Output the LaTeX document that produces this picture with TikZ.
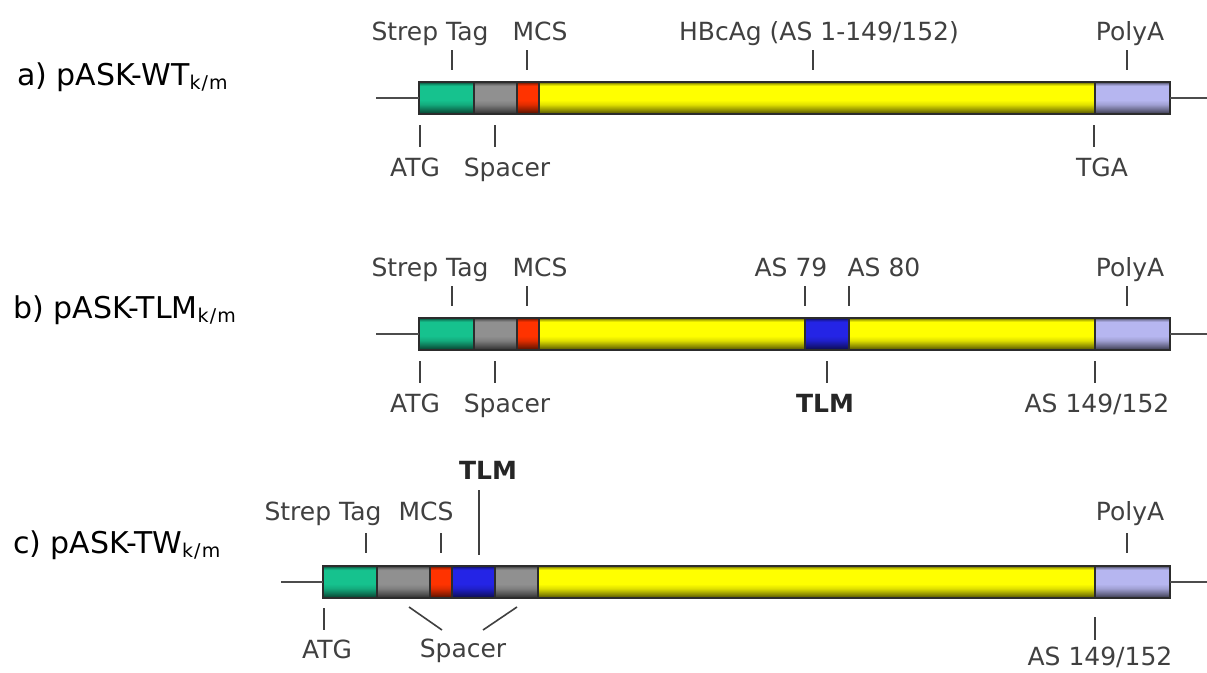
\documentclass[tikz,border=0pt]{standalone}
\usepackage{fontspec}
\setmainfont{DejaVu Sans}
\definecolor{cgreen}{HTML}{16C28E}
\definecolor{cgrey}{HTML}{909090}
\definecolor{cred}{HTML}{FF3300}
\definecolor{cyellow}{HTML}{FFFF00}
\definecolor{clav}{HTML}{B6B6F0}
\definecolor{cblue}{HTML}{2424E6}
\definecolor{txt}{HTML}{404040}
\definecolor{edge}{HTML}{2C2C2C}
\newcommand\mkshade[1]{\pgfdeclareverticalshading{sh#1}{100bp}{color(0bp)=(#1!30!black); color(25bp)=(#1!30!black); color(31bp)=(#1!55!black); color(40bp)=(#1!88!black); color(47bp)=(#1); color(69bp)=(#1); color(72.5bp)=(#1!70!black); color(75bp)=(#1!35!black); color(100bp)=(#1!35!black)}}
\mkshade{cgreen}\mkshade{cgrey}\mkshade{cred}\mkshade{cyellow}\mkshade{clav}\mkshade{cblue}
\tikzset{
  seg/.style={shade, shading=sh#1, draw=edge, line width=1.2pt, minimum height=32pt, inner sep=0pt, outer sep=0pt, anchor=north west},
  wire/.style={draw=edge!85, line width=1.5pt},
  tick/.style={draw=txt, line width=1.6pt},
  lab/.style={text=txt, font=\fontsize{25}{28}\selectfont, inner sep=0pt, anchor=base},
  blab/.style={lab, text=black!85, font=\fontsize{25}{28}\selectfont\bfseries},
  rowlab/.style={text=black, font=\fontsize{30}{33}\selectfont, inner sep=0pt, anchor=base west}
}
\newcommand\subkm{\raisebox{-4pt}{\fontsize{19}{21}\selectfont\addfontfeature{LetterSpace=6}k/m}}
\begin{document}
\begin{tikzpicture}[x=1pt,y=-1pt]
\useasboundingbox (0,0) rectangle (1207,672);
\fill[white] (0,0) rectangle (1207,672);

% ---------- row a ----------
\node[rowlab] (ra) at (17,85) {a) pASK-WT\subkm};
\coordinate (aL) at (376,98);
\coordinate (aR) at (1207,98);
\node[seg=cgreen,  minimum width=55pt]  (a1) at (419,82) {};
\node[seg=cgrey,   minimum width=43pt]  (a2) at (474,82) {};
\node[seg=cred,    minimum width=22pt]  (a3) at (517,82) {};
\node[seg=cyellow, minimum width=556pt] (a4) at (539,82) {};
\node[seg=clav,    minimum width=75pt]  (a5) at (1095,82) {};
\draw[wire] (aL) -- (a1.west);
\draw[wire] (a5.east) -- (aR);
\node[lab] (aStrep) at (430,40) {Strep Tag};
\node[lab] (aMCS) at (540,40) {MCS};
\node[lab] (aHBc) at (819,40) {HBcAg (AS 1-149/152)};
\node[lab] (aPoly) at (1130,40) {PolyA};
\node[lab] (aATG) at (415,176) {ATG};
\node[lab] (aSp) at (507,176) {Spacer};
\node[lab] (aTGA) at (1102,176) {TGA};
\foreach \x in {452,527,813,1127} \draw[tick] (\x,50) -- (\x,70);
\foreach \x in {420,495,1094} \draw[tick] (\x,125) -- (\x,147);

% ---------- row b ----------
\node[rowlab] (rb) at (13,318) {b) pASK-TLM\subkm};
\coordinate (bL) at (376,334);
\coordinate (bR) at (1207,334);
\node[seg=cgreen,  minimum width=55pt]  (b1) at (419,318) {};
\node[seg=cgrey,   minimum width=43pt]  (b2) at (474,318) {};
\node[seg=cred,    minimum width=22pt]  (b3) at (517,318) {};
\node[seg=cyellow, minimum width=266pt] (b4) at (539,318) {};
\node[seg=cblue,   minimum width=44pt]  (b5) at (805,318) {};
\node[seg=cyellow, minimum width=246pt] (b6) at (849,318) {};
\node[seg=clav,    minimum width=75pt]  (b7) at (1095,318) {};
\draw[wire] (bL) -- (b1.west);
\draw[wire] (b7.east) -- (bR);
\node[lab] (bStrep) at (430,276) {Strep Tag};
\node[lab] (bMCS) at (540,276) {MCS};
\node[lab] (b79) at (791,276) {AS 79};
\node[lab] (b80) at (884,276) {AS 80};
\node[lab] (bPoly) at (1130,276) {PolyA};
\node[lab] (bATG) at (415,412) {ATG};
\node[lab] (bSp) at (507,412) {Spacer};
\node[blab] (bTLM) at (825,412) {TLM};
\node[lab] (bAS) at (1097,412) {AS 149/152};
\foreach \x in {452,527,805,849,1127} \draw[tick] (\x,286) -- (\x,306);
\foreach \x in {420,495,827,1095} \draw[tick] (\x,361) -- (\x,383);

% ---------- row c ----------
\node[rowlab] (rc) at (13,553) {c) pASK-TW\subkm};
\coordinate (cL) at (281,582);
\coordinate (cR) at (1207,582);
\node[seg=cgreen,  minimum width=54pt]  (c1) at (323,566) {};
\node[seg=cgrey,   minimum width=53pt]  (c2) at (377,566) {};
\node[seg=cred,    minimum width=22pt]  (c3) at (430,566) {};
\node[seg=cblue,   minimum width=43pt]  (c4) at (452,566) {};
\node[seg=cgrey,   minimum width=43pt]  (c5) at (495,566) {};
\node[seg=cyellow, minimum width=557pt] (c6) at (538,566) {};
\node[seg=clav,    minimum width=75pt]  (c7) at (1095,566) {};
\draw[wire] (cL) -- (c1.west);
\draw[wire] (c7.east) -- (cR);
\node[blab] (cTLM) at (488,479) {TLM};
\node[lab] (cStrep) at (323,520) {Strep Tag};
\node[lab] (cMCS) at (426,520) {MCS};
\node[lab] (cPoly) at (1130,520) {PolyA};
\node[lab] (cATG) at (327,658) {ATG};
\node[lab] (cSp) at (463,657) {Spacer};
\node[lab] (cAS) at (1100,665) {AS 149/152};
\foreach \x in {366,441,1127} \draw[tick] (\x,533) -- (\x,553);
\draw[tick] (479,490) -- (479,555);
\draw[tick] (324,608) -- (324,630);
\draw[tick] (1095,617) -- (1095,640);
\draw[tick] (409,607) -- (442,630);
\draw[tick] (517,607) -- (483,630);
\end{tikzpicture}
\end{document}
